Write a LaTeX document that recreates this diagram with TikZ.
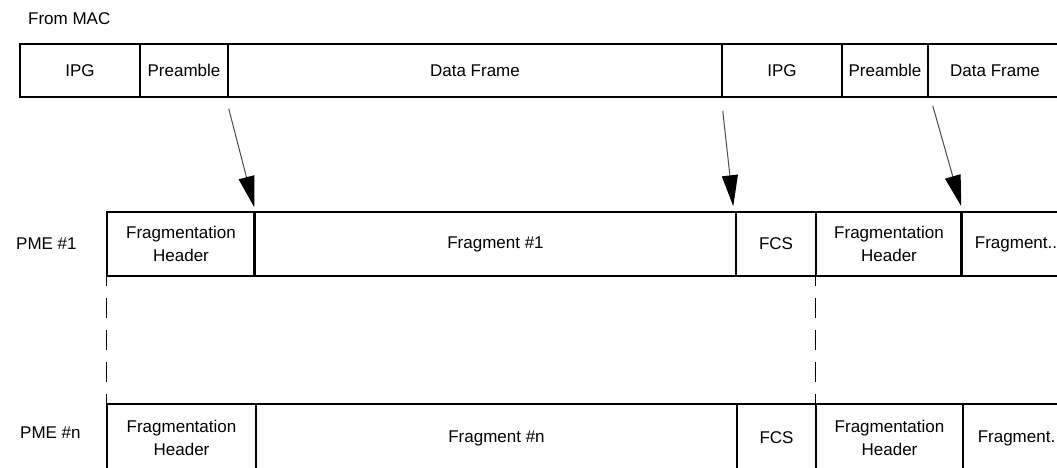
\documentclass[tikz,border=0pt]{standalone}
\usepackage{fontspec}
\setmainfont{Liberation Sans}
\usetikzlibrary{arrows.meta}
\begin{document}
\begin{tikzpicture}[x=1pt,y=-1pt,
  box/.style={draw, line width=1.5pt, inner sep=0pt, align=center, font=\fontsize{17}{23}\selectfont},
  lbl/.style={inner sep=0pt, font=\fontsize{17}{23}\selectfont},
  arr/.style={line width=1pt, draw=black!70, -{Triangle[length=31pt,width=16pt,color=black]}},
  thick divider/.style={line width=3pt},
  gapline/.style={line width=1.5pt, dash pattern=on 20pt off 12pt, dash phase=11pt}]
\useasboundingbox (0,0) rectangle (1057,467);
\clip (0,0) rectangle (1057,467);

\node[lbl, anchor=base west] (from) at (28,24) {From MAC};

% Row 1: from MAC
\node[box, minimum width=120pt, minimum height=53pt] (ipg1)  at (80,70.5)  {IPG};
\node[box, minimum width=88pt,  minimum height=53pt] (pre1)  at (184,70.5) {Preamble};
\node[box, minimum width=494pt, minimum height=53pt] (data1) at (475,70.5) {Data Frame};
\node[box, minimum width=120pt, minimum height=53pt] (ipg2)  at (782,70.5) {IPG};
\node[box, minimum width=86pt,  minimum height=53pt] (pre2)  at (885,70.5) {Preamble};
\node[box, minimum width=134pt, minimum height=53pt] (data2) at (995,70.5) {Data Frame};

% Row 2: PME #1
\node[lbl, anchor=base west] (pme1) at (16,249) {PME \#1};
\node[box, minimum width=148pt, minimum height=64pt] (fh1)    at (181,244)   {Fragmentation\\Header};
\node[box, minimum width=481pt, minimum height=64pt] (frag1)  at (495.5,244) {Fragment \#1};
\node[box, minimum width=80pt,  minimum height=64pt] (fcs1)   at (776,244)   {FCS};
\node[box, minimum width=146pt, minimum height=64pt] (fh2)    at (889,244)   {Fragmentation\\Header};
\node[box, minimum width=108pt, minimum height=64pt] (fragx1) at (1016,244)  {Fragment..};
\draw[thick divider] (frag1.north west) -- (frag1.south west);
\draw[thick divider] (fragx1.north west) -- (fragx1.south west);

% Row 3: PME #n
\node[lbl, anchor=base west] (pmen) at (20,438) {PME \#n};
\node[box, minimum width=149pt, minimum height=68pt] (fhn)    at (181.5,438)  {Fragmentation\\Header};
\node[box, minimum width=481pt, minimum height=68pt] (fragn)  at (496.5,438)  {Fragment \#n};
\node[box, minimum width=79pt,  minimum height=68pt] (fcsn)   at (776.5,438)  {FCS};
\node[box, minimum width=147pt, minimum height=68pt] (fh2n)   at (889.5,438)  {Fragmentation\\Header};
\node[box, minimum width=107pt, minimum height=68pt] (fragxn) at (1016.5,438) {Fragment.};

% dashed continuation lines
\draw[gapline] (fh1.south west) -- (fhn.north west);
\draw[gapline] (fh2.south west) -- (fh2n.north west);

% arrows
\draw[arr] ([yshift=-11pt]pre1.south east) -- ([yshift=4pt]frag1.north west);
\draw[arr] ([yshift=-13pt]data1.south east) -- ([xshift=-2pt,yshift=5pt]fcs1.north west);
\draw[arr] ([xshift=4pt,yshift=-8pt]pre2.south east) -- ([yshift=5pt]fragx1.north west);
\end{tikzpicture}
\end{document}
